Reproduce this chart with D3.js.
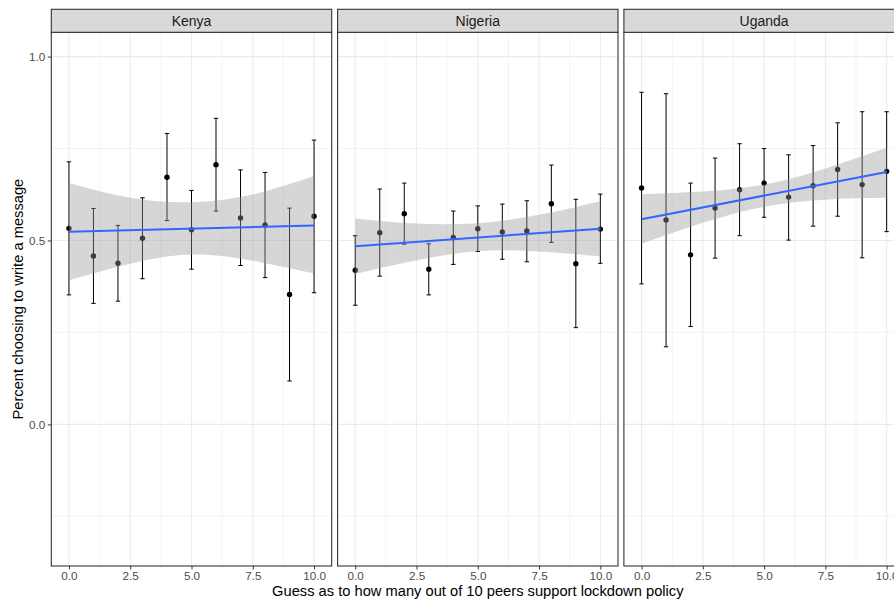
<!DOCTYPE html>
<html>
<head>
<meta charset="utf-8">
<script src="https://cdnjs.cloudflare.com/ajax/libs/d3/7.8.5/d3.min.js"></script>
<style>
	body { margin: 0; background: #fff; }
	svg { display: block; font-family: "Liberation Sans", Arial, sans-serif; }
</style>
</head>
<body>
<div id="vis_container"></div>
<script>
// values
var countries = ["Kenya", "Nigeria", "Uganda"];
var guesses = [0, 1, 2, 3, 4, 5, 6, 7, 8, 9, 10];

var kenyaMean = [0.533, 0.458, 0.438, 0.506, 0.672, 0.529, 0.706, 0.561, 0.542, 0.353, 0.566];
var kenyaLow  = [0.352, 0.329, 0.335, 0.396, 0.554, 0.422, 0.580, 0.432, 0.399, 0.118, 0.358];
var kenyaHigh = [0.714, 0.587, 0.541, 0.616, 0.791, 0.636, 0.832, 0.692, 0.685, 0.588, 0.773];

var nigeriaMean = [0.419, 0.521, 0.573, 0.422, 0.508, 0.532, 0.523, 0.526, 0.600, 0.437, 0.531];
var nigeriaLow  = [0.324, 0.403, 0.490, 0.352, 0.435, 0.470, 0.449, 0.442, 0.495, 0.263, 0.438];
var nigeriaHigh = [0.513, 0.640, 0.656, 0.491, 0.580, 0.594, 0.599, 0.608, 0.705, 0.612, 0.626];

var ugandaMean = [0.643, 0.556, 0.461, 0.588, 0.638, 0.656, 0.618, 0.649, 0.693, 0.652, 0.688];
var ugandaLow  = [0.382, 0.211, 0.266, 0.452, 0.513, 0.563, 0.501, 0.539, 0.566, 0.453, 0.524];
var ugandaHigh = [0.903, 0.899, 0.656, 0.724, 0.763, 0.750, 0.733, 0.758, 0.820, 0.850, 0.850];

// linear fit (value at guess 0 and guess 10) and its confidence band
var fitX = [0, 10];
var kenyaFit = [0.524, 0.541];
var nigeriaFit = [0.484, 0.532];
var ugandaFit = [0.558, 0.686];

var ribbonX = [0, 2.5, 5, 7.5, 10];
var kenyaRibLow  = [0.392, 0.437, 0.462, 0.445, 0.410];
var kenyaRibHigh = [0.656, 0.616, 0.604, 0.625, 0.675];
var nigeriaRibLow  = [0.409, 0.446, 0.471, 0.470, 0.457];
var nigeriaRibHigh = [0.560, 0.546, 0.547, 0.570, 0.607];
var ugandaRibLow  = [0.491, 0.548, 0.592, 0.611, 0.616];
var ugandaRibHigh = [0.626, 0.633, 0.652, 0.696, 0.752];

var xTicks = [0, 2.5, 5, 7.5, 10];
var xMinor = [1.25, 3.75, 6.25, 8.75];
var yTicks = [0, 0.5, 1.0];
var yMinor = [-0.25, 0.25, 0.75];

var panels = [
	{name: countries[0], mean: kenyaMean, low: kenyaLow, high: kenyaHigh, fit: kenyaFit, ribLow: kenyaRibLow, ribHigh: kenyaRibHigh},
	{name: countries[1], mean: nigeriaMean, low: nigeriaLow, high: nigeriaHigh, fit: nigeriaFit, ribLow: nigeriaRibLow, ribHigh: nigeriaRibHigh},
	{name: countries[2], mean: ugandaMean, low: ugandaLow, high: ugandaHigh, fit: ugandaFit, ribLow: ugandaRibLow, ribHigh: ugandaRibHigh}
];

var chart = {};
chart.width = 894;
chart.height = 605;
chart.panelLeft = 51.3;
chart.panelWidth = 280.4;
chart.panelGap = 5.9;
chart.stripTop = 9.3;
chart.panelTop = 32.3;
chart.panelBottom = 566;

chart.svg = d3.select("#vis_container").append("svg")
	.attr("width", chart.width)
	.attr("height", chart.height);

chart.y = d3.scaleLinear()
	.domain([-0.385, 1.066])
	.range([chart.panelBottom, chart.panelTop]);

function styleAxis(a) {
	a.attr("font-family", null).attr("font-size", null);
	a.select(".domain").remove();
	a.selectAll(".tick line").attr("stroke", "#333").attr("stroke-width", 1);
	a.selectAll(".tick text").attr("fill", "#4d4d4d").attr("font-size", 11.7);
}

// y axis (only on the first panel)
chart.svg.append("g")
	.attr("transform", "translate(" + chart.panelLeft + ",0)")
	.call(d3.axisLeft(chart.y).tickValues(yTicks).tickFormat(d3.format(".1f")).tickSize(3.5).tickPadding(2.5))
	.call(styleAxis);

panels.forEach(function(p, k) {
	var left = chart.panelLeft + k * (chart.panelWidth + chart.panelGap);
	var x = d3.scaleLinear()
		.domain([-0.72, 10.72])
		.range([left, left + chart.panelWidth]);

	var g = chart.svg.append("g");

	// grid
	g.selectAll(".minorX").data(xMinor).enter().append("line")
		.attr("x1", function(d) { return x(d); }).attr("x2", function(d) { return x(d); })
		.attr("y1", chart.panelTop).attr("y2", chart.panelBottom)
		.attr("stroke", "#ebebeb").attr("stroke-width", 0.6);
	g.selectAll(".minorY").data(yMinor).enter().append("line")
		.attr("x1", left).attr("x2", left + chart.panelWidth)
		.attr("y1", function(d) { return chart.y(d); }).attr("y2", function(d) { return chart.y(d); })
		.attr("stroke", "#ebebeb").attr("stroke-width", 0.6);
	g.selectAll(".majorX").data(xTicks).enter().append("line")
		.attr("x1", function(d) { return x(d); }).attr("x2", function(d) { return x(d); })
		.attr("y1", chart.panelTop).attr("y2", chart.panelBottom)
		.attr("stroke", "#ebebeb").attr("stroke-width", 1.1);
	g.selectAll(".majorY").data(yTicks).enter().append("line")
		.attr("x1", left).attr("x2", left + chart.panelWidth)
		.attr("y1", function(d) { return chart.y(d); }).attr("y2", function(d) { return chart.y(d); })
		.attr("stroke", "#ebebeb").attr("stroke-width", 1.1);

	var rows = guesses.map(function(gx, i) { return {x: gx, mean: p.mean[i], low: p.low[i], high: p.high[i]}; });

	// error bars
	var bars = g.selectAll(".bar").data(rows).enter().append("g");
	bars.append("line")
		.attr("x1", function(d) { return x(d.x); }).attr("x2", function(d) { return x(d.x); })
		.attr("y1", function(d) { return chart.y(d.low); }).attr("y2", function(d) { return chart.y(d.high); })
		.attr("stroke", "#000").attr("stroke-width", 1);
	bars.append("line")
		.attr("x1", function(d) { return x(d.x - 0.09); }).attr("x2", function(d) { return x(d.x + 0.09); })
		.attr("y1", function(d) { return chart.y(d.high); }).attr("y2", function(d) { return chart.y(d.high); })
		.attr("stroke", "#000").attr("stroke-width", 1);
	bars.append("line")
		.attr("x1", function(d) { return x(d.x - 0.09); }).attr("x2", function(d) { return x(d.x + 0.09); })
		.attr("y1", function(d) { return chart.y(d.low); }).attr("y2", function(d) { return chart.y(d.low); })
		.attr("stroke", "#000").attr("stroke-width", 1);

	// points
	g.selectAll(".pt").data(rows).enter().append("circle")
		.attr("cx", function(d) { return x(d.x); })
		.attr("cy", function(d) { return chart.y(d.mean); })
		.attr("r", 2.7)
		.attr("fill", "#000");

	// confidence band, drawn over the points like geom_smooth
	var band = ribbonX.map(function(rx, i) { return {x: rx, lo: p.ribLow[i], hi: p.ribHigh[i]}; });
	g.append("path")
		.datum(band)
		.attr("d", d3.area()
			.curve(d3.curveNatural)
			.x(function(d) { return x(d.x); })
			.y0(function(d) { return chart.y(d.lo); })
			.y1(function(d) { return chart.y(d.hi); }))
		.attr("fill", "#999999")
		.attr("fill-opacity", 0.4);

	g.append("path")
		.datum(fitX.map(function(fx, i) { return {x: fx, v: p.fit[i]}; }))
		.attr("d", d3.line()
			.x(function(d) { return x(d.x); })
			.y(function(d) { return chart.y(d.v); }))
		.attr("stroke", "#3366ff")
		.attr("stroke-width", 2)
		.attr("fill", "none");

	// panel border
	g.append("rect")
		.attr("x", left).attr("y", chart.panelTop)
		.attr("width", chart.panelWidth).attr("height", chart.panelBottom - chart.panelTop)
		.attr("fill", "none").attr("stroke", "#333").attr("stroke-width", 1.1);

	// strip
	g.append("rect")
		.attr("x", left).attr("y", chart.stripTop)
		.attr("width", chart.panelWidth).attr("height", chart.panelTop - chart.stripTop)
		.attr("fill", "#d9d9d9").attr("stroke", "#333").attr("stroke-width", 1.1);
	g.append("text")
		.attr("x", left + chart.panelWidth / 2)
		.attr("y", (chart.stripTop + chart.panelTop) / 2)
		.attr("dy", "0.35em")
		.attr("text-anchor", "middle")
		.attr("font-size", 14)
		.attr("fill", "#1a1a1a")
		.text(p.name);

	// x axis
	g.append("g")
		.attr("transform", "translate(0," + chart.panelBottom + ")")
		.call(d3.axisBottom(x).tickValues(xTicks).tickFormat(d3.format(".1f")).tickSize(3.5).tickPadding(2.5))
		.call(styleAxis);
});

// axis titles
chart.svg.append("text")
	.attr("x", (chart.panelLeft + chart.panelLeft + 3 * chart.panelWidth + 2 * chart.panelGap) / 2)
	.attr("y", 596)
	.attr("text-anchor", "middle")
	.attr("font-size", 14.7)
	.attr("fill", "#000")
	.text("Guess as to how many out of 10 peers support lockdown policy");

chart.svg.append("text")
	.attr("transform", "translate(23," + (chart.panelTop + chart.panelBottom) / 2 + ") rotate(-90)")
	.attr("text-anchor", "middle")
	.attr("font-size", 14.7)
	.attr("fill", "#000")
	.text("Percent choosing to write a message");
</script>
</body>
</html>
